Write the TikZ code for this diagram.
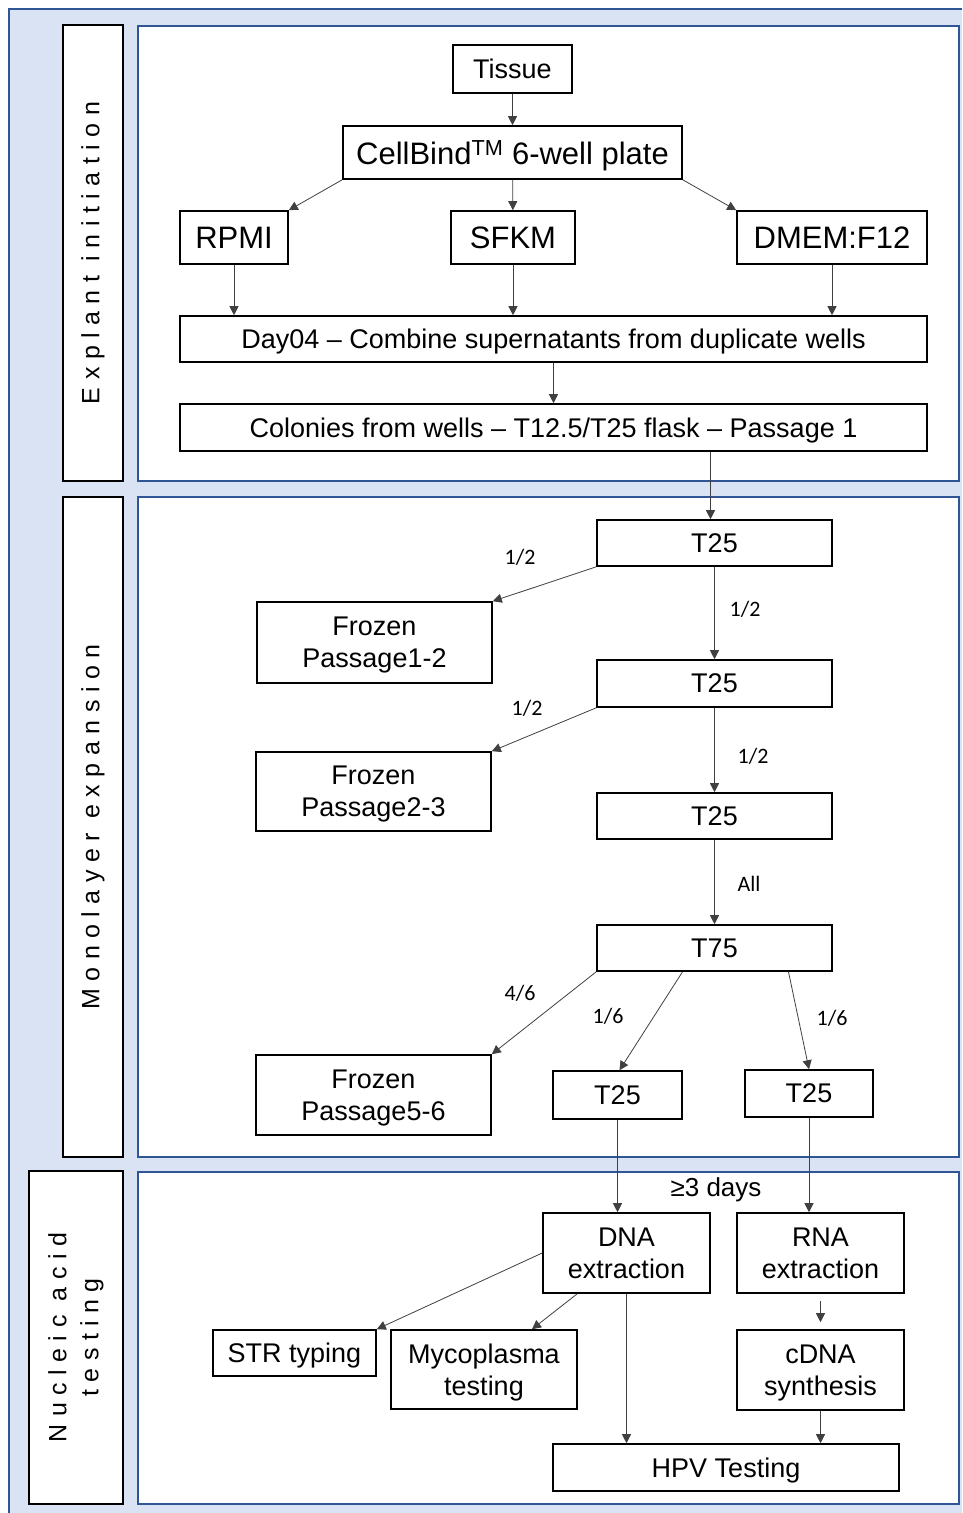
\documentclass[tikz,border=0pt]{standalone}
\usepackage{fontspec}
\setmainfont{Liberation Sans}
\newfontfamily\lblfont{Carlito}
\newfontfamily\sidefont[LetterSpace=30]{Liberation Sans}
\usetikzlibrary{arrows.meta,calc}
\definecolor{bgblue}{HTML}{DAE3F3}
\definecolor{lineblue}{HTML}{2F5597}
\definecolor{arrowgray}{HTML}{404040}

\begin{document}
\begin{tikzpicture}[x=1pt, y=-1pt, >={Triangle[length=9pt,width=9pt]},
    box/.style={draw, line width=1.6pt, fill=white, inner sep=0pt, align=center,
        text depth=0pt, font=\fontsize{27}{32}\selectfont},
    big/.style={font=\fontsize{31}{36}\selectfont},
    side/.style={draw, line width=1.6pt, fill=white, inner sep=0pt, align=center,
        rotate=90, font=\sidefont\fontsize{25}{32}\selectfont},
    panel/.style={draw=lineblue, line width=1.6pt, fill=white},
    flow/.style={->, draw=arrowgray, line width=0.8pt},
    frac/.style={font=\lblfont\fontsize{22}{26}\selectfont}]
    \useasboundingbox (0,0) rectangle (962,1513);
    % background and the three panels
    \fill[bgblue] (9,9) rectangle (962,1513);
    \draw[lineblue, line width=1.6pt] (9,1513) -- (9,9) -- (962,9);
    \draw[panel] (138,26) rectangle (959,481);
    \draw[panel] (138,497) rectangle (959,1157);
    \draw[panel] (138,1172) rectangle (959,1504);
    \node[side, minimum width=456pt, minimum height=60pt] (sideA) at (93,253) {Explant initiation};
    \node[side, minimum width=660pt, minimum height=60pt] (sideB) at (93,827) {Monolayer expansion};
    \node[side, minimum width=333pt, minimum height=94pt] (sideC) at (76,1337.5) {Nucleic acid\\testing};

    % explant initiation
    \node[box, minimum width=119pt, minimum height=48pt] (tissue) at (512.5,69) {Tissue};
    \node[box, big, minimum width=339pt, minimum height=53pt] (plate) at (512.5,152.5) {CellBind\textsuperscript{TM} 6-well plate};
    \node[box, big, minimum width=108pt, minimum height=53pt] (rpmi) at (234,237.5) {RPMI};
    \node[box, big, minimum width=124pt, minimum height=53pt] (sfkm) at (513,237.5) {SFKM};
    \node[box, big, minimum width=190pt, minimum height=53pt] (dmem) at (832,237.5) {DMEM:F12};
    \node[box, minimum width=747pt, minimum height=46pt] (day) at (553.5,339) {Day04 -- Combine supernatants from duplicate wells};
    \node[box, minimum width=747pt, minimum height=47pt] (col) at (553.5,427.5) {Colonies from wells -- T12.5/T25 flask -- Passage 1};

    % monolayer expansion
    \node[box, minimum width=235pt, minimum height=46pt] (t25a) at (714.5,543) {T25};
    \node[box, minimum width=235pt, minimum height=81pt] (froz1) at (374.5,642.5) {Frozen\\Passage1-2};
    \node[box, minimum width=235pt, minimum height=47pt] (t25b) at (714.5,683.5) {T25};
    \node[box, minimum width=235pt, minimum height=79pt] (froz2) at (373.5,791.5) {Frozen\\Passage2-3};
    \node[box, minimum width=235pt, minimum height=46pt] (t25c) at (714.5,816) {T25};
    \node[box, minimum width=235pt, minimum height=46pt] (t75) at (714.5,948) {T75};
    \node[box, minimum width=235pt, minimum height=80pt] (froz3) at (373.5,1095) {Frozen\\Passage5-6};
    \node[box, minimum width=129pt, minimum height=48pt] (t25d) at (617.5,1095) {T25};
    \node[box, minimum width=128pt, minimum height=47pt] (t25e) at (809,1093.5) {T25};

    % nucleic acid testing
    \node[box, minimum width=167pt, minimum height=80pt] (dna) at (626.5,1253) {DNA\\extraction};
    \node[box, minimum width=167pt, minimum height=80pt] (rna) at (820.5,1253) {RNA\\extraction};
    \node[box, minimum width=163pt, minimum height=46pt] (str) at (294.5,1353) {STR typing};
    \node[box, minimum width=186pt, minimum height=79pt] (myco) at (484,1369.5) {Mycoplasma\\testing};
    \node[box, minimum width=167pt, minimum height=80pt] (cdna) at (820.5,1370) {cDNA\\synthesis};
    \node[box, minimum width=346pt, minimum height=47pt] (hpv) at (726,1467.5) {HPV Testing};

    % split labels
    \node[frac] (fa) at (520,557) {1/2};
    \node[frac] (fb) at (745,609) {1/2};
    \node[frac] (fc) at (527,708) {1/2};
    \node[frac] (fd) at (753,756) {1/2};
    \node[frac] (fe) at (749,884) {All};
    \node[frac] (ff) at (520,993) {4/6};
    \node[frac] (fg) at (608,1016) {1/6};
    \node[frac] (fh) at (832,1018) {1/6};
    \node[font=\fontsize{26}{30}\selectfont] (days) at (716,1190) {≥3 days};

    % arrows
    \draw[flow] (tissue) -- (plate);
    \draw[flow] (plate.south west) -- (rpmi.north east);
    \draw[flow] (plate) -- (sfkm);
    \draw[flow] (plate.south east) -- (dmem.north west);
    \draw[flow] (rpmi) -- (rpmi |- day.north);
    \draw[flow] (sfkm) -- (sfkm |- day.north);
    \draw[flow] (dmem) -- (dmem |- day.north);
    \draw[flow] (day) -- (col);
    \coordinate (drop) at ([xshift=-4pt]t25a.north);
    \draw[flow] (col.south -| drop) -- (drop);
    \draw[flow] (t25a.south west) -- (froz1.north east);
    \draw[flow] (t25a) -- (t25b);
    \draw[flow] (t25b.south west) -- (froz2.north east);
    \draw[flow] (t25b) -- (t25c);
    \draw[flow] (t25c) -- (t75);
    \draw[flow] (t75.south west) -- (froz3.north east);
    \draw[flow] ([xshift=-32pt]t75.south) -- ([xshift=2pt]t25d.north);
    \draw[flow] ([xshift=74pt]t75.south) -- (t25e.north);
    \draw[flow] (t25d) -- (t25d |- dna.north);
    \draw[flow] (t25e) -- (t25e |- rna.north);
    \draw[flow] (dna.west) -- (str.north east);
    \draw[flow] ([xshift=35pt]dna.south west) -- ([xshift=48pt]myco.north);
    \draw[flow] (dna) -- (dna |- hpv.north);
    \draw[flow, shorten <=7pt, shorten >=7pt] (rna) -- (cdna);
    \draw[flow] (cdna) -- (cdna |- hpv.north);
\end{tikzpicture}
\end{document}
